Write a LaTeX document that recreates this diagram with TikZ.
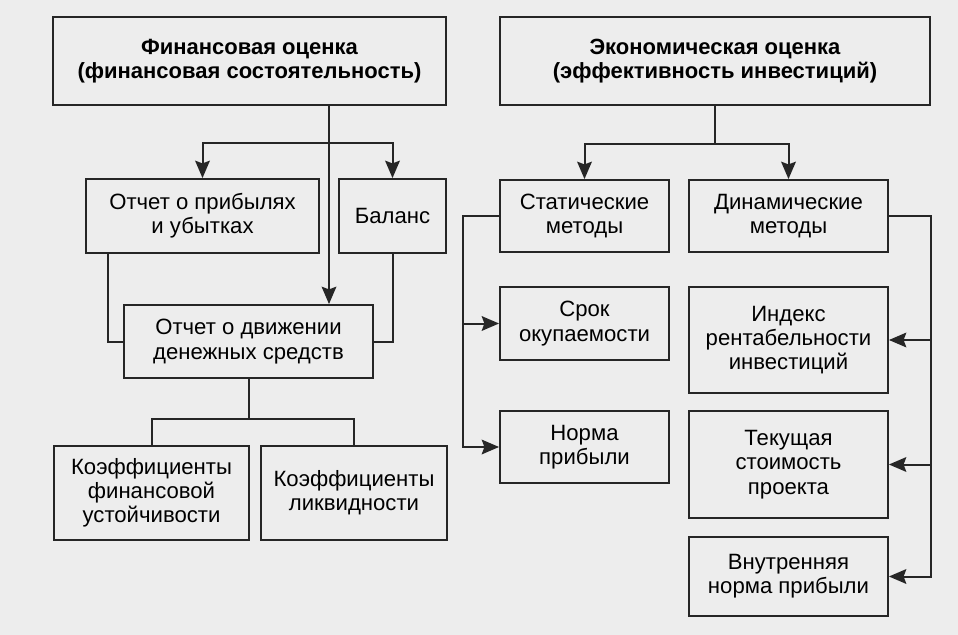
\documentclass[tikz,border=0pt]{standalone}
\usepackage{fontspec}
\setmainfont{Liberation Sans}
\usetikzlibrary{arrows.meta}

\newcommand\bx[6]{\node[box, minimum width=(#4-#2)*0.75pt, minimum height=(#5-#3)*0.75pt] (#1) at ({(#2+#4)/2},{(#3+#5)/2}) {#6};}

\begin{document}
\begin{tikzpicture}[x=0.75pt,y=-0.75pt,
	box/.style={draw=black!85, line width=1.4pt, align=center, inner sep=1pt,
		font=\fontsize{16.6}{18.2}\selectfont},
	head/.style={box, font=\fontsize{16.5}{18.2}\selectfont\bfseries},
	link/.style={draw=black!85, line width=1.5pt},
	arr/.style={link, -{Stealth[length=13pt,width=11pt,inset=2pt]}}]
		\fill[black!7] (0,0) rectangle (958,635);
		\useasboundingbox (0,0) rectangle (958,635);
		% upper level
		\node[head, minimum width=393*0.75pt, minimum height=88*0.75pt] (fin) at (249.5,61) {Финансовая оценка\\(финансовая состоятельность)};
		\node[head, minimum width=430*0.75pt, minimum height=88*0.75pt] (econ) at (715,61) {Экономическая оценка\\(эффективность инвестиций)};
		% financial side
		\bx{pu}{86}{179}{319}{253}{Отчет о прибылях\\и убытках}
		\bx{bal}{339}{179}{446}{253}{Баланс}
		\bx{cfd}{124}{305}{373}{378}{Отчет о движении\\денежных средств}
		\bx{kfu}{54}{446}{249}{540}{Коэффициенты\\финансовой\\устойчивости}
		\bx{kl}{261}{446}{447}{540}{Коэффициенты\\ликвидности}
		% economic side
		\bx{stat}{500}{180}{669}{252}{Статические\\методы}
		\bx{dyn}{689}{180}{888}{252}{Динамические\\методы}
		\bx{srok}{500}{287}{669}{360}{Срок\\окупаемости}
		\bx{norma}{500}{411}{669}{483}{Норма\\прибыли}
		\bx{ind}{689}{287}{888}{393}{Индекс\\рентабельности\\инвестиций}
		\bx{tek}{689}{411}{888}{518}{Текущая\\стоимость\\проекта}
		\bx{vn}{689}{537}{888}{616}{Внутренняя\\норма прибыли}

		\coordinate (fs) at (329,143);
		\coordinate (pl) at (108,0);
		\coordinate (sl) at (463,0);
		\coordinate (dr) at (931,0);

		\draw[arr] (fs |- fin.south) -- (fs |- cfd.north);
		\draw[arr] (fs) -| (pu.north);
		\draw[arr] (fs) -| (bal.north);
		\draw[link] (pl |- pu.south) |- (cfd.west);
		\draw[link] (bal.south) |- (cfd.east);
		\draw[link] (cfd.south) -- ++(0,40) -| (kfu.north);
		\draw[link] (cfd.south) -- ++(0,40) -| (kl.north);

		\draw[arr] (econ.south) -- ++(0,38) -| (stat.north);
		\draw[arr] (econ.south) -- ++(0,38) -| (dyn.north);
		\draw[arr] (stat.west) -- (sl |- stat.west) |- (norma.west);
		\draw[arr] (sl |- srok.west) -- (srok.west);
		\draw[arr] (dyn.east) -- (dr |- dyn.east) |- (vn.east);
		\draw[arr] (dr |- ind.east) -- (ind.east);
		\draw[arr] (dr |- tek.east) -- (tek.east);
	\end{tikzpicture}
\end{document}
